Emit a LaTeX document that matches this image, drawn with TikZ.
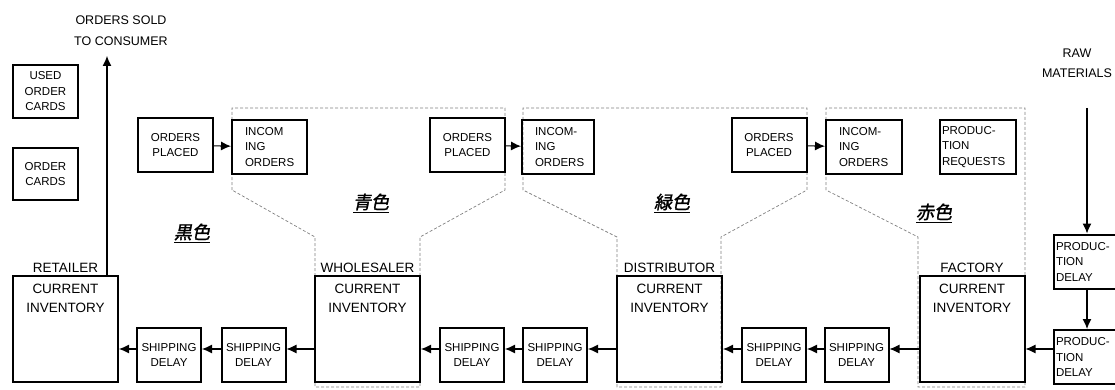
\documentclass[tikz,border=0pt]{standalone}
\usepackage{fontspec}
\setmainfont{Liberation Sans}
\newfontfamily\cjk[FakeSlant=0.2,FakeBold=1.5]{Noto Sans CJK JP}
\usetikzlibrary{arrows.meta,positioning}

\tikzset{
	box/.style={draw, line width=2pt, inner sep=0pt, font=\fontsize{11.5}{15.5}\selectfont},
	bigbox/.style={box, minimum width=105pt, minimum height=106pt},
	shipbox/.style={box, minimum width=64pt, minimum height=54pt, align=center},
	orderbox/.style={box, minimum width=75pt, minimum height=54pt, align=center},
	inbox/.style={box, minimum width=#1pt, minimum height=54pt, align=left},
	arr/.style={-{Latex[length=10pt,width=9pt]}, line width=1.1pt},
	bound/.style={gray, line width=0.7pt, dash pattern=on 3pt off 2pt},
	role/.style={font=\fontsize{13.5}{19}\selectfont, inner sep=1pt, align=center},
	colour/.style={font=\cjk\fontsize{18}{20}\selectfont},
}

\begin{document}
\begin{tikzpicture}[x=1pt, y=-1pt]
	\useasboundingbox (0,0) rectangle (1115,390);
	\clip (0,0) rectangle (1115,390);

	% dotted outlines of the three upstream stages
	\foreach \a/\b/\c/\d in {232/505/315/420, 523/807/617/721, 826/1025/918/1025} {
		\draw[bound] (\a,190) -- (\a,108) -- (\b,108) -- (\b,190) -- (\d,237) -- (\d,387)
			-- (\c,387) -- (\c,237) -- cycle;
	}

	% stages with current inventory
	\foreach \n/\x/\t in {ret/65.5/RETAILER, whs/367.5/WHOLESALER, dis/669.5/DISTRIBUTOR, fac/972/FACTORY} {
		\node[bigbox] (\n) at (\x,329) {};
		\node[role, above=1pt of \n] (\n-name) {\t};
		\node[role, below=8pt of \n.north] (\n-inv) {CURRENT\\INVENTORY};
	}

	% shipping delays
	\foreach \n/\x in {sd1/169, sd2/253.5, sd3/472, sd4/555, sd5/774, sd6/856.5}
		\node[shipbox] (\n) at (\x,355) {SHIPPING\\DELAY};

	% production delays
	\node[inbox=66, text width=62pt] (pd1) at (1087,261.5) {PRODUC-\\TION\\DELAY};
	\node[inbox=66, text width=62pt] (pd2) at (1087,357) {PRODUC-\\TION\\DELAY};

	% order cards
	\node[orderbox, minimum width=65pt, minimum height=53pt] (used) at (45.5,91.5) {USED\\ORDER\\CARDS};
	\node[orderbox, minimum width=65pt, minimum height=52pt] (cards) at (45.5,174) {ORDER\\CARDS};

	\foreach \n/\x in {op1/175.5, op2/467.5, op3/769}
		\node[orderbox] (\n) at (\x,145) {ORDERS\\PLACED};
	\node[inbox=75, text width=49pt] (in1) at (269.5,147) {INCOM\\ING\\ORDERS};
	\node[inbox=72, text width=46pt] (in2) at (558,147) {INCOM-\\ING\\ORDERS};
	\node[inbox=76, text width=50pt] (in3) at (864,147) {INCOM-\\ING\\ORDERS};
	\node[inbox=76, text width=72pt] (req) at (978,147) {PRODUC-\\TION\\REQUESTS};

	\draw[arr] (op1) -- (in1);
	\draw[arr] (op2) -- (in2);
	\draw[arr] (op3) -- (in3);

	% material flow
	\foreach \a/\b in {sd1/ret, sd2/sd1, whs/sd2, sd3/whs, sd4/sd3, dis/sd4, sd5/dis, sd6/sd5, fac/sd6, pd2/fac}
		\draw[arr] (\a.west |- 0,349) -- (\b.east |- 0,349);
	\draw[arr] (pd1) -- (pd2);

	\node[role, font=\fontsize{12.5}{21}\selectfont] (sold) at (121,31) {ORDERS SOLD\\TO CONSUMER};
	\coordinate (soldtip) at (107,56);
	\draw[arr] (soldtip |- ret.north) -- (soldtip);

	\node[role, font=\fontsize{12.5}{20}\selectfont] (raw) at (1077,63) {RAW\\MATERIALS};
	\coordinate (rawtop) at (1087,108);
	\draw[arr] (rawtop) -- (pd1);

	% colours
	\node[colour] (black) at (192,233) {\underline{黒色}};
	\node[colour] (cyan) at (371,203) {\underline{青色}};
	\node[colour] (green) at (672,203) {\underline{緑色}};
	\node[colour] (red) at (934,213) {\underline{赤色}};
\end{tikzpicture}
\end{document}
